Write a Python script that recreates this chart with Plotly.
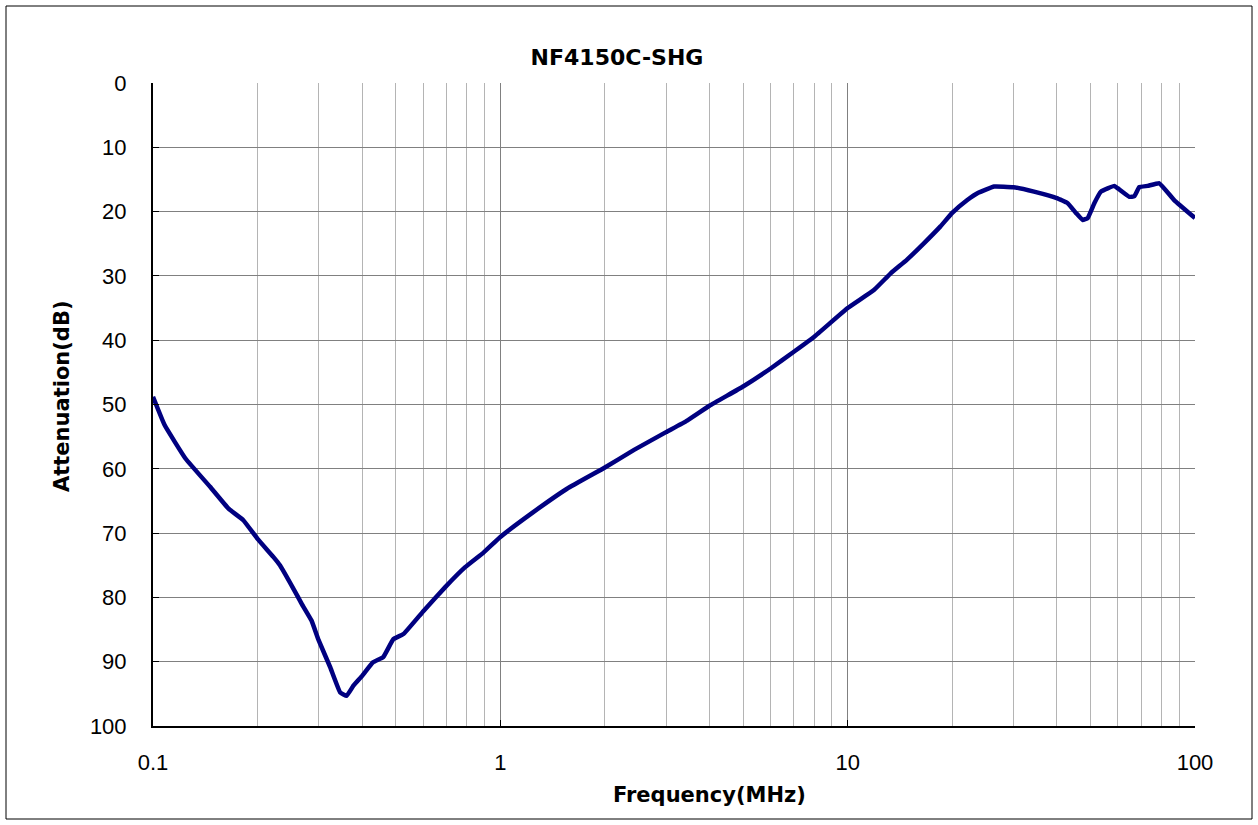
import plotly.graph_objects as go

# Data
freq_mhz = [0.1, 0.108, 0.124, 0.146, 0.165, 0.182, 0.2, 0.222, 0.232, 0.254,
            0.268, 0.286, 0.3, 0.324, 0.346, 0.361, 0.378, 0.4, 0.43, 0.46,
            0.492, 0.526, 0.601, 0.694, 0.792, 0.896, 1.0, 1.247, 1.556, 2.0,
            2.42, 3.0, 3.45, 4.0, 5.0, 6.0, 7.0, 8.0, 10.0, 11.9,
            13.3, 14.8, 16.6, 18.5, 20.0, 22.1, 23.7, 26.4, 30.0, 34.4,
            40.0, 43.0, 45.4, 47.5, 49.1, 51.3, 53.6, 58.6, 60.0, 64.7,
            66.9, 69.1, 73.1, 78.9, 87.1, 100.0]
atten_db = [48.8, 53.2, 58.4, 62.8, 66.2, 68.0, 70.9, 73.7, 75.0, 78.7,
            81.0, 83.6, 86.7, 90.9, 94.8, 95.3, 93.7, 92.2, 90.1, 89.3,
            86.5, 85.7, 82.1, 78.4, 75.3, 73.0, 70.6, 66.7, 63.1, 59.8,
            57.1, 54.3, 52.5, 50.2, 47.2, 44.4, 41.8, 39.5, 35.0, 32.2,
            29.6, 27.5, 24.9, 22.3, 20.2, 18.2, 17.1, 16.1, 16.2, 16.9,
            17.9, 18.7, 20.2, 21.3, 21.0, 18.7, 16.9, 16.0, 16.4, 17.7,
            17.6, 16.2, 16.0, 15.6, 18.2, 21.0]

x_major = [0.1, 1, 10, 100]
x_major_text = ["0.1", "1", "10", "100"]
x_minor = [m * d for d in (0.1, 1, 10) for m in range(2, 10)]
y_ticks = list(range(0, 101, 10))

title_text = "NF4150C-SHG"
x_title = "Frequency(MHz)"
y_title = "Attenuation(dB)"

W, H = 1258, 825
L, R, T, B = 153, 63, 83, 99
pw, ph = W - L - R, H - T - B

fig = go.Figure()
fig.add_trace(go.Scatter(
    x=freq_mhz, y=atten_db, mode="lines",
    line=dict(color="#000080", width=4.5, shape="spline", smoothing=0.3),
    showlegend=False, hoverinfo="x+y"))

font_fam = "DejaVu Sans, Liberation Sans, Arial, sans-serif"

fig.update_layout(
    width=W, height=H,
    margin=dict(l=L, r=R, t=T, b=B, pad=0),
    paper_bgcolor="white", plot_bgcolor="white",
    font=dict(family="Liberation Sans, Arial, sans-serif", size=22, color="black"),
    title=dict(text=title_text, x=617 / W, xref="container", xanchor="center",
               y=1 - 57 / H, yref="container", yanchor="middle",
               font=dict(family=font_fam, size=22, color="black", weight="bold")),
    xaxis=dict(
        type="log", range=[-1, 2],
        tickmode="array", tickvals=x_major, ticktext=x_major_text,
        showgrid=True, gridcolor="#808080", gridwidth=1,
        minor=dict(tickmode="array", tickvals=x_minor, showgrid=True,
                   gridcolor="#b4b4b4", gridwidth=1, ticks=""),
        ticks="inside", ticklen=6, tickcolor="black", tickwidth=1,
        showline=True, linecolor="black", linewidth=2, mirror=False,
        zeroline=False, ticklabelstandoff=16,
        tickfont=dict(size=22),
    ),
    yaxis=dict(
        range=[100, 0], tickmode="array", tickvals=y_ticks,
        showgrid=True, gridcolor="#808080", gridwidth=1,
        ticks="inside", ticklen=6, tickcolor="black", tickwidth=1,
        showline=True, linecolor="black", linewidth=2, mirror=False,
        zeroline=False, ticklabelstandoff=20,
        tickfont=dict(size=22),
    ),
)

# axis titles as annotations positioned like the reference
fig.add_annotation(text=x_title, xref="paper", yref="paper",
                   x=(709 - L) / pw, y=-(795 - (T + ph)) / ph,
                   showarrow=False, xanchor="center", yanchor="middle",
                   font=dict(family=font_fam, size=21, color="black", weight="bold"))
fig.add_annotation(text=y_title, xref="paper", yref="paper",
                   x=(62 - L) / pw, y=1 - (396 - T) / ph, textangle=-90,
                   showarrow=False, xanchor="center", yanchor="middle",
                   font=dict(family=font_fam, size=21, color="black", weight="bold"))

# outer chart border
fig.add_shape(type="rect", xref="paper", yref="paper",
              x0=(6 - L) / pw, x1=(1252 - L) / pw,
              y0=1 - (819 - T) / ph, y1=1 - (6 - T) / ph,
              line=dict(color="black", width=1), fillcolor="rgba(0,0,0,0)",
              layer="below")

fig.write_html("out.html", config={"displayModeBar": False},
               post_script="document.body.style.margin='0';document.body.style.overflow='hidden';")
